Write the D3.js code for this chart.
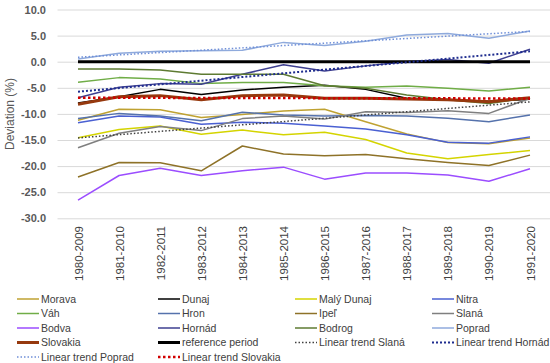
<!DOCTYPE html>
<html>
<head>
<meta charset="utf-8">
<script src="https://cdn.jsdelivr.net/npm/d3@7"></script>
<style>
  html, body { margin: 0; padding: 0; background: #fff; }
  svg { display: block; }
</style>
</head>
<body>
<svg id="chart" width="550" height="363"></svg>
<script>
// ---- data ----
const categories = ["1980-2009","1981-2010","1982-2011","1983-2012","1984-2013","1985-2014",
                    "1986-2015","1987-2016","1988-2017","1989-2018","1990-2019","1991-2020"];
const yTicks = [10, 5, 0, -5, -10, -15, -20, -25, -30];

const morava    = [-11.2, -9.1, -9.2, -10.7, -10.1, -9.45, -9.1, -11.5, -13.85, -15.5, -15.7, -14.6];
const dunaj     = [-7.9, -6.7, -5.3, -6.3, -5.4, -4.9, -4.5, -5.3, -7.0, -7.3, -7.6, -7.2];
const malyDunaj = [-14.55, -13.0, -12.3, -13.9, -13.1, -14.0, -13.5, -14.9, -17.5, -18.6, -17.8, -17.0];
const nitra     = [-11.7, -10.4, -10.6, -12.0, -11.6, -11.8, -12.3, -12.9, -14.0, -15.45, -15.6, -14.4];
const vah       = [-3.95, -3.05, -3.3, -4.2, -4.0, -4.0, -4.6, -4.9, -4.65, -5.1, -5.6, -4.9];
const hron      = [-10.9, -9.9, -10.4, -11.3, -9.7, -10.2, -10.4, -10.3, -10.4, -10.85, -11.5, -10.2];
const ipel      = [-22.1, -19.3, -19.35, -20.9, -16.15, -17.7, -18.0, -17.8, -18.6, -19.3, -19.9, -17.9];
const slana     = [-16.5, -13.7, -12.4, -13.2, -10.9, -10.4, -11.0, -9.6, -9.75, -9.4, -9.9, -7.0];
const bodva     = [-26.5, -21.8, -20.4, -21.8, -20.9, -20.2, -22.5, -21.3, -21.3, -21.7, -22.9, -20.5];
const hornad    = [-6.9, -4.9, -4.2, -4.3, -2.4, -0.6, -1.8, -0.8, 0.0, 0.4, -0.3, 2.4];
const bodrog    = [-1.4, -1.4, -1.6, -2.4, -2.4, -2.4, -4.6, -5.1, -6.4, -7.3, -8.0, -6.9];
const poprad    = [0.5, 1.6, 2.0, 2.1, 2.2, 3.7, 3.1, 3.9, 5.1, 5.4, 4.5, 5.9];
const slovakia  = [-8.15, -6.7, -6.5, -7.3, -6.5, -6.4, -7.0, -7.0, -7.15, -7.3, -7.65, -6.9];
const reference = [0, 0, 0, 0, 0, 0, 0, 0, 0, 0, 0, 0];

// linear trends: values read at first and last category
const trendSlana    = [-14.6, -7.7];
const trendHornad   = [-5.75, 2.0];
const trendPoprad   = [0.85, 5.8];
const trendSlovakia = [-6.9, -7.05];

// ---- styles ----
const series = [
  {name: "Morava",      values: morava,    color: "#BFA232", width: 1.5},
  {name: "Dunaj",       values: dunaj,     color: "#000000", width: 1.5},
  {name: "Malý Dunaj",  values: malyDunaj, color: "#D4D400", width: 1.5},
  {name: "Nitra",       values: nitra,     color: "#4A60D2", width: 1.5},
  {name: "Váh",         values: vah,       color: "#70AD47", width: 1.5},
  {name: "Hron",        values: hron,      color: "#5572AC", width: 1.5},
  {name: "Ipeľ",        values: ipel,      color: "#8E7228", width: 1.5},
  {name: "Slaná",       values: slana,     color: "#7F7F7F", width: 1.5},
  {name: "Bodva",       values: bodva,     color: "#9B4DFF", width: 1.5},
  {name: "Hornád",      values: hornad,    color: "#3E3F90", width: 1.5},
  {name: "Bodrog",      values: bodrog,    color: "#5E7B32", width: 1.5},
  {name: "Poprad",      values: poprad,    color: "#8FAADC", width: 1.5},
  {name: "Slovakia",    values: slovakia,  color: "#96390E", width: 3},
  {name: "reference period", values: reference, color: "#000000", width: 3}
];
const trends = [
  {name: "Linear trend Slaná",    values: trendSlana,    color: "#404040", width: 1.5, dash: "1.5,2"},
  {name: "Linear trend Hornád",   values: trendHornad,   color: "#1F2D8F", width: 2,   dash: "2,2"},
  {name: "Linear trend Poprad",   values: trendPoprad,   color: "#6F8FD8", width: 1.5, dash: "1.5,2"},
  {name: "Linear trend Slovakia", values: trendSlovakia, color: "#D00000", width: 2.5, dash: "2.5,2.5"}
];

const svg = d3.select("#chart");
const left = 57.5, right = 550;
const x = d3.scalePoint().domain(categories).range([78, 530]);
const y = d3.scaleLinear().domain([-30, 10]).range([218.3, 9.5]);

// gridlines
svg.append("g")
  .attr("transform", `translate(${left},0)`)
  .call(d3.axisLeft(y).tickValues(yTicks).tickSize(-(right - left)).tickFormat(""))
  .call(g => g.select(".domain").remove())
  .call(g => g.selectAll("line").attr("stroke", "#D9D9D9").attr("stroke-width", 1));

// y axis labels
svg.append("g")
  .attr("transform", "translate(50,0)")
  .call(d3.axisLeft(y).tickValues(yTicks).tickSize(0).tickPadding(4).tickFormat(d => d.toFixed(1)))
  .call(g => g.select(".domain").remove())
  .call(g => g.selectAll("text")
    .attr("font-family", "Liberation Sans, Arial, sans-serif")
    .attr("font-size", 11).attr("font-weight", "bold").attr("fill", "#595959"));

// y axis title
svg.append("text")
  .attr("transform", "translate(10,114) rotate(-90)")
  .attr("text-anchor", "middle").attr("dy", "0.35em")
  .attr("font-family", "Liberation Sans, Arial, sans-serif")
  .attr("font-size", 12).attr("fill", "#595959")
  .text("Deviation (%)");

// x axis labels
svg.append("g")
  .attr("transform", "translate(0,222)")
  .call(d3.axisBottom(x).tickSize(0).tickPadding(0))
  .call(g => g.select(".domain").remove())
  .call(g => g.selectAll("text")
    .attr("transform", "rotate(-90)")
    .attr("text-anchor", "end")
    .attr("x", -4).attr("y", 0).attr("dy", "0.35em")
    .attr("font-family", "Liberation Sans, Arial, sans-serif")
    .attr("font-size", 11.5).attr("fill", "#404040"));

const line = d3.line().x((d, i) => x(categories[i])).y(d => y(d));
const trendLine = d3.line()
  .x((d, i) => x(categories[i === 0 ? 0 : categories.length - 1]))
  .y(d => y(d));

const plot = svg.append("g");
series.forEach(s => {
  plot.append("path")
    .attr("d", line(s.values))
    .attr("fill", "none")
    .attr("stroke", s.color)
    .attr("stroke-width", s.width)
    .attr("stroke-linejoin", "round");
});
trends.forEach(t => {
  plot.append("path")
    .attr("d", trendLine(t.values))
    .attr("fill", "none")
    .attr("stroke", t.color)
    .attr("stroke-width", t.width)
    .attr("stroke-dasharray", t.dash);
});

// legend
const legendItems = series.concat(trends);
const colX = [17, 158, 295, 432];
const rowY = [299, 313.5, 328, 342.5, 357];
const lg = svg.append("g");
legendItems.forEach((item, i) => {
  const c = i % 4, r = Math.floor(i / 4);
  const gx = colX[c], gy = rowY[r];
  const g = lg.append("g").attr("transform", `translate(${gx},${gy})`);
  g.append("line")
    .attr("x1", 0).attr("x2", 22).attr("y1", 0).attr("y2", 0)
    .attr("stroke", item.color)
    .attr("stroke-width", item.width)
    .attr("stroke-dasharray", item.dash || null);
  g.append("text")
    .attr("x", 24).attr("y", 0).attr("dy", "0.35em")
    .attr("font-family", "Liberation Sans, Arial, sans-serif")
    .attr("font-size", 10.5).attr("fill", "#404040")
    .text(item.name);
});
</script>
</body>
</html>
